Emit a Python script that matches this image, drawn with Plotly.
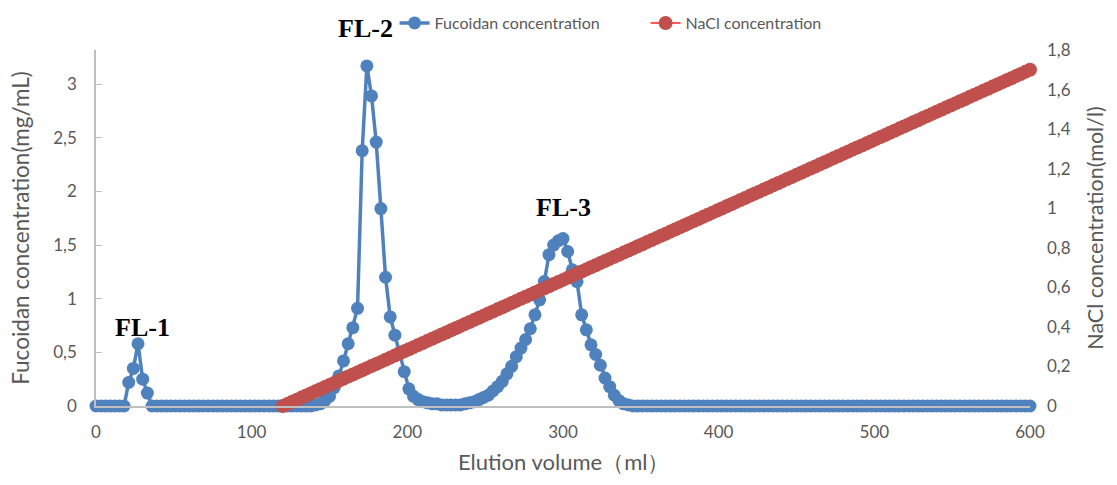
import plotly.graph_objects as go

# Elution volume sampling grid (ml), fraction every 3 ml
volume = list(range(0, 601, 3))

fucoidan = [
    0, 0, 0, 0, 0, 0, 0, 0.22, 0.35, 0.58, 0.25, 0.12, 0,                     # 0-36
    0, 0, 0, 0, 0, 0, 0, 0, 0, 0, 0, 0, 0, 0, 0, 0, 0,                         # 39-87
    0, 0, 0, 0, 0, 0, 0, 0, 0, 0, 0, 0, 0, 0, 0, 0, 0,                         # 90-138
    0.01, 0.02, 0.05, 0.09, 0.17, 0.28, 0.42, 0.58, 0.73, 0.91,               # 141-168
    2.38, 3.17, 2.89, 2.46, 1.84, 1.20, 0.83, 0.66, 0.50, 0.32,               # 171-198
    0.16, 0.09, 0.06, 0.04, 0.03, 0.02, 0.02, 0.01, 0.01, 0.01,               # 201-228
    0.01, 0.01, 0.02, 0.03, 0.04, 0.06, 0.08, 0.10, 0.14, 0.18,               # 231-258
    0.23, 0.30, 0.37, 0.46, 0.54, 0.62, 0.72, 0.85, 0.99, 1.16,               # 261-288
    1.41, 1.50, 1.54, 1.56, 1.44, 1.27, 1.16, 0.85, 0.71, 0.57,               # 291-318
    0.48, 0.38, 0.26, 0.18, 0.10, 0.05, 0.02, 0.01, 0,                        # 321-345
    0, 0, 0, 0, 0, 0, 0, 0, 0, 0, 0, 0, 0, 0, 0, 0, 0,                         # 348-396
    0, 0, 0, 0, 0, 0, 0, 0, 0, 0, 0, 0, 0, 0, 0, 0, 0,                         # 399-447
    0, 0, 0, 0, 0, 0, 0, 0, 0, 0, 0, 0, 0, 0, 0, 0, 0,                         # 450-498
    0, 0, 0, 0, 0, 0, 0, 0, 0, 0, 0, 0, 0, 0, 0, 0, 0,                         # 501-549
    0, 0, 0, 0, 0, 0, 0, 0, 0, 0, 0, 0, 0, 0, 0, 0, 0,                         # 552-600
]

# NaCl gradient (mol/l), sampled every 3 ml from 120 ml
nacl_volume = list(range(120, 601, 3))
nacl = [
    0.0000, 0.0106, 0.0213, 0.0319, 0.0425, 0.0531, 0.0638, 0.0744, 0.0850, 0.0956, 0.1063, 0.1169, 0.1275, 0.1381, 0.1488, 0.1594,
    0.1700, 0.1806, 0.1913, 0.2019, 0.2125, 0.2231, 0.2338, 0.2444, 0.2550, 0.2656, 0.2763, 0.2869, 0.2975, 0.3081, 0.3188, 0.3294,
    0.3400, 0.3506, 0.3613, 0.3719, 0.3825, 0.3931, 0.4038, 0.4144, 0.4250, 0.4356, 0.4463, 0.4569, 0.4675, 0.4781, 0.4888, 0.4994,
    0.5100, 0.5206, 0.5313, 0.5419, 0.5525, 0.5631, 0.5738, 0.5844, 0.5950, 0.6056, 0.6163, 0.6269, 0.6375, 0.6481, 0.6588, 0.6694,
    0.6800, 0.6906, 0.7013, 0.7119, 0.7225, 0.7331, 0.7438, 0.7544, 0.7650, 0.7756, 0.7863, 0.7969, 0.8075, 0.8181, 0.8288, 0.8394,
    0.8500, 0.8606, 0.8713, 0.8819, 0.8925, 0.9031, 0.9138, 0.9244, 0.9350, 0.9456, 0.9563, 0.9669, 0.9775, 0.9881, 0.9988, 1.0094,
    1.0200, 1.0306, 1.0413, 1.0519, 1.0625, 1.0731, 1.0838, 1.0944, 1.1050, 1.1156, 1.1263, 1.1369, 1.1475, 1.1581, 1.1688, 1.1794,
    1.1900, 1.2006, 1.2113, 1.2219, 1.2325, 1.2431, 1.2538, 1.2644, 1.2750, 1.2856, 1.2963, 1.3069, 1.3175, 1.3281, 1.3388, 1.3494,
    1.3600, 1.3706, 1.3813, 1.3919, 1.4025, 1.4131, 1.4238, 1.4344, 1.4450, 1.4556, 1.4663, 1.4769, 1.4875, 1.4981, 1.5088, 1.5194,
    1.5300, 1.5406, 1.5513, 1.5619, 1.5725, 1.5831, 1.5938, 1.6044, 1.6150, 1.6256, 1.6363, 1.6469, 1.6575, 1.6681, 1.6788, 1.6894,
    1.7000,
]

x_ticks = [0, 100, 200, 300, 400, 500, 600]
x_tick_labels = ["0", "100", "200", "300", "400", "500", "600"]
y_ticks = [0, 0.5, 1, 1.5, 2, 2.5, 3]
y_tick_labels = ["0", "0,5", "1", "1,5", "2", "2,5", "3"]
y2_ticks = [0, 0.2, 0.4, 0.6, 0.8, 1.0, 1.2, 1.4, 1.6, 1.8]
y2_tick_labels = ["0", "0,2", "0,4", "0,6", "0,8", "1", "1,2", "1,4", "1,6", "1,8"]

peak_labels = ["FL-1", "FL-2", "FL-3"]
peak_x = [30, 173, 300]
peak_y = [0.73, 3.52, 1.85]

BLUE = "#4F81BD"
RED = "#C0504D"
FONT = "Lato, Open Sans, sans-serif"
TICK_FONT = dict(family=FONT, size=17, color="#595959")

Y_MAX = 3.318

fig = go.Figure()
fig.add_trace(go.Scatter(
    x=volume, y=fucoidan, name="Fucoidan concentration",
    mode="lines+markers",
    line=dict(color=BLUE, width=3.5),
    marker=dict(color=BLUE, size=13),
    cliponaxis=False,
))
fig.add_trace(go.Scatter(
    x=nacl_volume, y=nacl, name="NaCl concentration", yaxis="y2",
    mode="lines+markers",
    line=dict(color="#FF2020", width=1.5),
    marker=dict(color=RED, size=14),
    cliponaxis=False,
))

for t, xv, yv in zip(peak_labels, peak_x, peak_y):
    fig.add_annotation(
        x=xv, y=yv / Y_MAX, xref="x", yref="paper", text="<b>" + t + "</b>", showarrow=False,
        xanchor="center", yanchor="middle",
        font=dict(family="Liberation Serif, Times New Roman, serif", size=26, color="black"),
    )

# x-axis title placed just below the tick labels
fig.add_annotation(
    x=0.5, y=-0.1545, xref="paper", yref="paper", text="Elution volume（ml）",
    showarrow=False, xanchor="center", yanchor="middle", borderpad=0,
    font=dict(family=FONT, size=22, color="#595959"),
)

fig.update_layout(
    width=1117, height=485,
    margin=dict(l=96, r=87, t=50, b=79, autoexpand=False),
    paper_bgcolor="white", plot_bgcolor="white",
    showlegend=True,
    legend=dict(
        orientation="h", x=0.3197, y=1.1234, xanchor="left", yanchor="top",
        font=dict(family=FONT, size=16, color="#595959"),
        entrywidth=206, entrywidthmode="pixels",
        bgcolor="rgba(0,0,0,0)",
    ),
    xaxis=dict(
        range=[0, 600], tickvals=x_ticks, ticktext=x_tick_labels,
        showline=True, linecolor="#BFBFBF", linewidth=1.5,
        showgrid=False, zeroline=False, ticks="", tickfont=TICK_FONT,
        ticklabelstandoff=10,
    ),
    yaxis=dict(
        range=[0, Y_MAX], tickvals=y_ticks, ticktext=y_tick_labels,
        showline=True, linecolor="#BFBFBF", linewidth=1.5,
        showgrid=False, zeroline=False, ticks="inside", ticklen=6, tickcolor="#BFBFBF",
        tickfont=TICK_FONT, ticklabelstandoff=14,
        title=dict(text="Fucoidan concentration(mg/mL)",
                   font=dict(family=FONT, size=22.5, color="#595959"), standoff=17),
    ),
    yaxis2=dict(
        range=[0, 1.8], tickvals=y2_ticks, ticktext=y2_tick_labels,
        overlaying="y", side="right",
        showline=False, showgrid=False, zeroline=False, ticks="",
        tickfont=TICK_FONT, ticklabelstandoff=16,
        title=dict(text="NaCl concentration(mol/l)",
                   font=dict(family=FONT, size=21.5, color="#595959"), standoff=18),
    ),
)

fig.write_html("out.html")
